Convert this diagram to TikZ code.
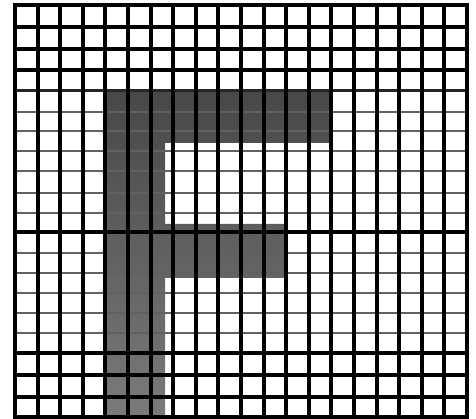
\documentclass[tikz,border=0pt]{standalone}
\begin{document}
\begin{tikzpicture}[x=1pt,y=-1pt,
  thickline/.style={line width=4pt,black,line cap=rect},
  midline/.style={line width=3pt,black!85},
  thinline/.style={line width=2pt,black!62},
  fshade/.style={top color=black!72,bottom color=black!52}]
\useasboundingbox (0,0) rectangle (476,419);
\fill[white] (0,0) rectangle (476,419);
% the shaded letter F
\shade[fshade] (105,90) -- (332,90) -- (332,143) -- (165,143) -- (165,224) -- (287,224)
  -- (287,278) -- (165,278) -- (165,417) -- (105,417) -- cycle;
% thin horizontal grid lines
\foreach \yy in {112,131,151,171,193,213,253,273,293,313,333}
  \draw[thinline] (15,\yy) -- (467,\yy);
\draw[midline] (15,91) -- (467,91);
% thick horizontal grid lines
\foreach \yy in {5,27,49,70,232,353,375,397,417}
  \draw[thickline] (15,\yy) -- (467,\yy);
% vertical grid lines
\foreach \i in {0,...,20}
  \draw[thickline] ({15+22.6*\i},5) -- ({15+22.6*\i},417);
\end{tikzpicture}
\end{document}
